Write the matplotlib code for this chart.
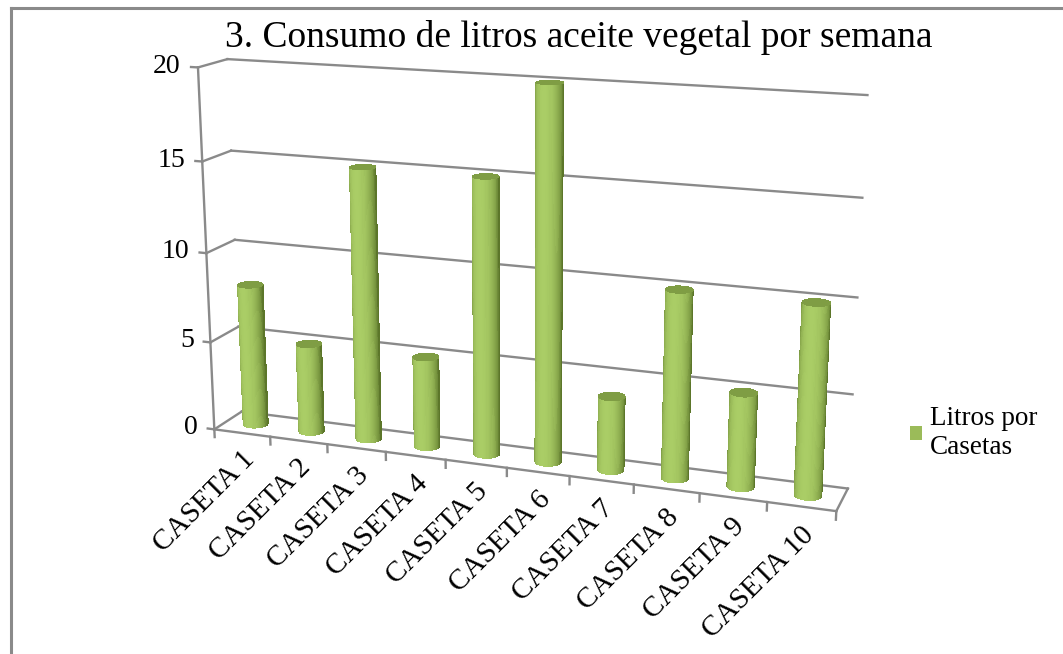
import numpy as np
import matplotlib.pyplot as plt
from matplotlib.patches import Patch
from matplotlib.lines import Line2D
from mpl_toolkits.mplot3d import proj3d

categorias = ['CASETA 1', 'CASETA 2', 'CASETA 3', 'CASETA 4', 'CASETA 5',
              'CASETA 6', 'CASETA 7', 'CASETA 8', 'CASETA 9', 'CASETA 10']
litros = [8, 5, 15, 5, 15, 20, 4, 10, 5, 10]
ticks_y = [0, 5, 10, 15, 20]
titulo = '3. Consumo de litros aceite vegetal por semana'
serie = 'Litros por\nCasetas'

plt.rcParams['font.family'] = ['Liberation Serif', 'DejaVu Serif']
gris = '#8a8a8a'
verde = '#9bbb59'

fig = plt.figure(figsize=(10.63, 6.54), dpi=100)
ax = fig.add_axes([0.4758 - 0.4, 0.563 - 0.65, 0.8, 1.3], projection='3d',
                  computed_zorder=False)
ax.set_proj_type('persp', focal_length=0.4)
ax.view_init(elev=15, azim=-70)
n = len(litros)
ymax = ticks_y[-1]
ax.set_xlim(0, n)
ax.set_ylim(0, 1)
ax.set_zlim(0, ymax)
ax.set_box_aspect((662, 61, 386), zoom=0.887)
ax.set_axis_off()

# paredes: lineas de division
for v in ticks_y:
    ax.plot([0, n], [1, 1], [v, v], color=gris, lw=1.7, zorder=1)
    ax.plot([0, 0], [0, 1], [v, v], color=gris, lw=1.7, zorder=1)
    ax.plot([0, -0.12], [0, 0], [v, v], color=gris, lw=1.7, zorder=1)
ax.plot([0, 0], [0, 0], [0, ymax], color=gris, lw=1.7, zorder=1)

# cilindros (solo la mitad visible)
rx = 0.2
ry = rx * (662 / n) / 61
phi_c = np.deg2rad(-70)
th = np.linspace(phi_c - np.deg2rad(100), phi_c + np.deg2rad(100), 81)
phi_l = np.deg2rad(-95)
t = np.clip(np.cos(th - phi_l), 0, 1) ** 0.8
claro = np.array([170, 205, 102]) / 255
oscuro = np.array([92, 118, 42]) / 255
cols = oscuro[None, :] + (claro - oscuro)[None, :] * t[:, None]
cols = np.concatenate([cols, np.ones((len(th), 1))], axis=1)
th_full = np.linspace(0, 2 * np.pi, 73)
for i, h in enumerate(litros):
    xc = i + 0.5
    X = np.vstack([xc + rx * np.cos(th)] * 2)
    Y = np.vstack([0.5 + ry * np.sin(th)] * 2)
    Z = np.vstack([np.zeros_like(th), np.full_like(th, h)])
    fc = np.stack([cols, cols])
    ax.plot_surface(X, Y, Z, facecolors=fc, shade=False, linewidth=0,
                    antialiased=False, zorder=2 + 2 * i)
    r = np.array([0, 1])
    Xc = xc + rx * np.outer(r, np.cos(th_full))
    Yc = 0.5 + ry * np.outer(r, np.sin(th_full))
    Zc = np.full_like(Xc, h)
    ax.plot_surface(Xc, Yc, Zc, color='#7f9d44', shade=False, linewidth=0,
                    antialiased=False, zorder=3 + 2 * i)

# piso
ax.plot([0, n], [0, 0], [0, 0], color=gris, lw=1.7, zorder=40)
ax.plot([n, n], [0, 1], [0, 0], color=gris, lw=1.7, zorder=40)
for k in range(n + 1):
    ax.plot([k, k], [0, 0], [0, -0.45], color=gris, lw=1.7, zorder=40)

# etiquetas: se proyectan los puntos 3D al plano del eje
fig.canvas.draw()
M = ax.get_proj()
for v in ticks_y:
    px, py, _ = proj3d.proj_transform(-0.3, 0, v, M)
    ax.text2D(px, py, str(v), transform=ax.transData, ha='right',
              va='center', fontsize=20)
for i, c in enumerate(categorias):
    px, py, _ = proj3d.proj_transform(i + 0.63, 0, -1.25, M)
    ax.text2D(px, py, c, transform=ax.transData, rotation=45,
              rotation_mode='anchor', ha='right', va='center', fontsize=21)

fig.text(0.544, 0.942, titulo, ha='center', va='center', fontsize=27)
fig.legend(handles=[Patch(facecolor=verde)], labels=[serie],
           loc='center left', bbox_to_anchor=(910 / 1063, 1 - 433 / 654),
           frameon=False, fontsize=19.5, handlelength=0.45, handleheight=0.45,
           handletextpad=0.3, borderaxespad=0, borderpad=0, labelspacing=0.1)

# borde del grafico
fig.add_artist(Line2D([10.5 / 1063, 10.5 / 1063], [0, 1 - 7.5 / 654],
                      color=gris, lw=2.2, transform=fig.transFigure))
fig.add_artist(Line2D([10.5 / 1063, 1], [1 - 7.5 / 654, 1 - 7.5 / 654],
                      color=gris, lw=2.2, transform=fig.transFigure))

fig.savefig('out.png', dpi=100)
